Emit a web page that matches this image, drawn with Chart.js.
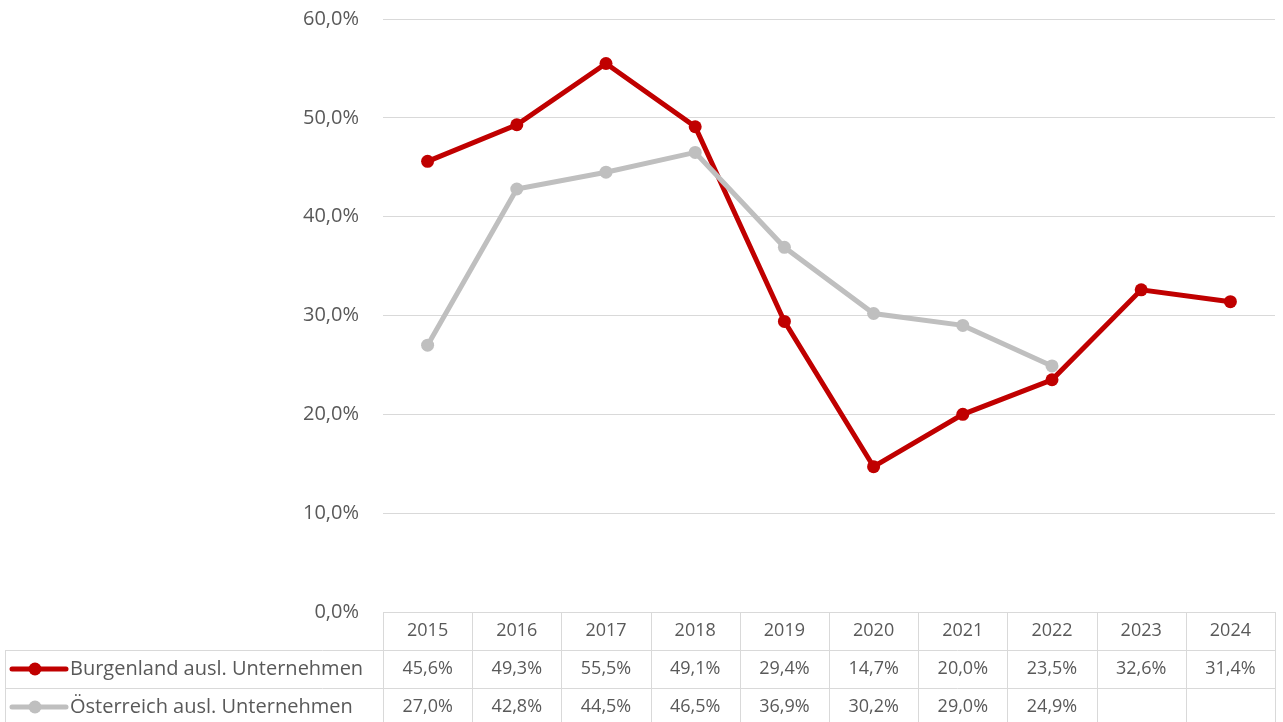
<!DOCTYPE html>
<html>
<head>
<meta charset="utf-8">
<script src="https://cdn.jsdelivr.net/npm/chart.js@4"></script>
<style>
  html, body { margin: 0; padding: 0; background: #fff; }
  #wrap { width: 1283px; height: 722px; }
</style>
</head>
<body>
<div id="wrap"><canvas id="chart" width="1283" height="722"></canvas></div>
<script>
// Chart data
const years = ['2015', '2016', '2017', '2018', '2019', '2020', '2021', '2022', '2023', '2024'];
const burgenland = [45.6, 49.3, 55.5, 49.1, 29.4, 14.7, 20.0, 23.5, 32.6, 31.4];
const oesterreich = [27.0, 42.8, 44.5, 46.5, 36.9, 30.2, 29.0, 24.9, null, null];
const seriesNames = ['Burgenland ausl. Unternehmen', 'Österreich ausl. Unternehmen'];
const yTicks = [0, 10, 20, 30, 40, 50, 60];

const RED = '#c00000';
const GREY = '#bfbfbf';
const TEXT = '#595959';
const LINE = '#d9d9d9';
const FONT = '"Open Sans", "Noto Sans", sans-serif';

function fmt(v) {
    return v.toFixed(1).replace('.', ',') + '%';
}

// Data table under the plot, like Excel's chart data table
const dataTable = {
    id: 'dataTable',
    afterDraw(chart) {
        const ctx = chart.ctx;
        const x = chart.scales.x;
        const area = chart.chartArea;
        const rowH = 38;
        const top = area.bottom;
        const rows = [top, top + rowH, top + rowH * 2, top + rowH * 3];
        const tableLeft = 5;
        const half = (x.getPixelForValue(1) - x.getPixelForValue(0)) / 2;

        ctx.save();
        ctx.strokeStyle = LINE;
        ctx.lineWidth = 1;

        // horizontal lines
        ctx.beginPath();
        ctx.moveTo(area.left, rows[0] + 0.5);
        ctx.lineTo(area.right, rows[0] + 0.5);
        for (let i = 1; i < rows.length; i++) {
            ctx.moveTo(tableLeft, Math.round(rows[i]) + 0.5);
            ctx.lineTo(area.right, Math.round(rows[i]) + 0.5);
        }
        // vertical lines
        ctx.moveTo(tableLeft + 0.5, rows[1]);
        ctx.lineTo(tableLeft + 0.5, rows[3]);
        for (let i = 0; i <= years.length; i++) {
            const px = Math.round(x.getPixelForValue(i) - half) + 0.5;
            ctx.moveTo(px, rows[0]);
            ctx.lineTo(px, rows[3]);
        }
        ctx.stroke();

        // text
        ctx.fillStyle = TEXT;
        ctx.font = '18px ' + FONT;
        ctx.textAlign = 'center';
        ctx.textBaseline = 'middle';
        years.forEach((y, i) => {
            const cx = x.getPixelForValue(i);
            ctx.fillText(y, cx, rows[0] + rowH / 2);
            ctx.fillText(fmt(burgenland[i]), cx, rows[1] + rowH / 2);
            if (oesterreich[i] !== null) {
                ctx.fillText(fmt(oesterreich[i]), cx, rows[2] + rowH / 2);
            }
        });

        // legend keys + series names
        const keys = [RED, GREY];
        ctx.font = '20px ' + FONT;
        keys.forEach((c, i) => {
            const cy = rows[i + 1] + rowH / 2;
            ctx.strokeStyle = c;
            ctx.lineWidth = 5;
            ctx.lineCap = 'round';
            ctx.beginPath();
            ctx.moveTo(12, cy);
            ctx.lineTo(66, cy);
            ctx.stroke();
            ctx.fillStyle = c;
            ctx.beginPath();
            ctx.arc(35, cy, 6.5, 0, Math.PI * 2);
            ctx.fill();
            ctx.fillStyle = TEXT;
            ctx.textAlign = 'left';
            ctx.fillText(seriesNames[i], 70, cy);
        });
        ctx.restore();
    }
};

new Chart(document.getElementById('chart').getContext('2d'), {
    type: 'line',
    data: {
        labels: years,
        datasets: [
            {
                label: seriesNames[0],
                data: burgenland,
                borderColor: RED,
                backgroundColor: RED,
                borderWidth: 5,
                pointRadius: 6.5,
                pointBorderWidth: 0,
                tension: 0
            },
            {
                label: seriesNames[1],
                data: oesterreich,
                borderColor: GREY,
                backgroundColor: GREY,
                borderWidth: 5,
                pointRadius: 6.5,
                pointBorderWidth: 0,
                tension: 0,
                spanGaps: false
            }
        ].reverse()
    },
    options: {
        responsive: false,
        animation: false,
        layout: { padding: { top: 19, right: 8, bottom: 110, left: 0 } },
        plugins: {
            legend: { display: false },
            tooltip: { enabled: false }
        },
        scales: {
            x: {
                display: false,
                offset: true
            },
            y: {
                min: 0,
                max: 60,
                afterFit: function(scale) {
                    scale.width = 383;
                    scale.paddingTop = 0;
                    scale.paddingBottom = 0;
                },
                afterBuildTicks: function(scale) {
                    scale.ticks = yTicks.map(v => ({ value: v }));
                },
                grid: { color: LINE, lineWidth: 1, drawTicks: false },
                border: { display: false },
                ticks: {
                    padding: 24,
                    color: TEXT,
                    font: { family: FONT, size: 20 },
                    callback: function(v) { return fmt(v); }
                }
            }
        }
    },
    plugins: [dataTable]
});
</script>
</body>
</html>
